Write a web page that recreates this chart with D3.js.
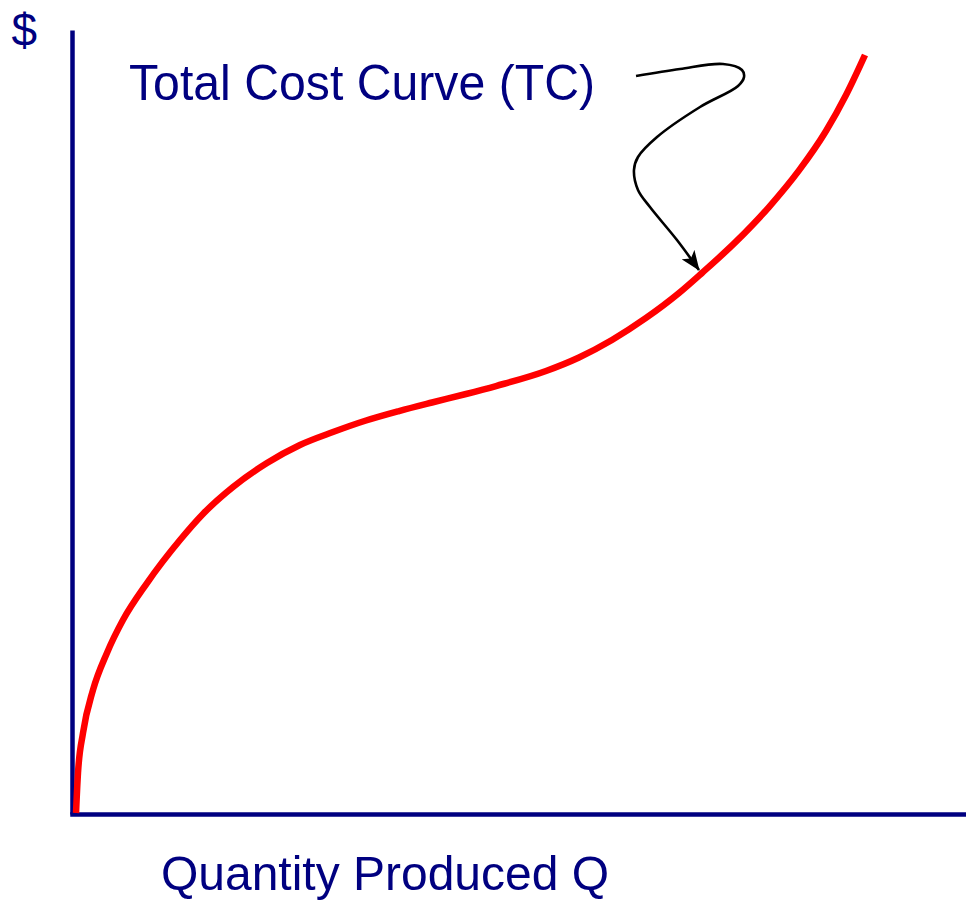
<!DOCTYPE html>
<html>
<head>
<meta charset="utf-8">
<script src="https://cdn.jsdelivr.net/npm/d3@7"></script>
<style>
  html, body { margin: 0; padding: 0; background: #fff; }
  svg { display: block; }
</style>
</head>
<body>
<svg id="chart" width="966" height="901"></svg>
<script>
// ---- Data (Q in arbitrary units 0..100, $ in arbitrary units 0..100) ----
const quantity = [0.45, 0.67, 1.23, 2.35, 3.91, 5.70, 8.39, 12.08, 14.65, 18.01, 21.81, 25.50, 29.19, 32.89, 36.58, 40.27, 44.07, 47.43, 53.02, 56.71, 60.40, 64.21, 67.90, 70.47, 74.27, 77.96, 81.32, 84.34, 86.58, 88.70];
const totalCost = [0.13, 5.23, 10.33, 15.82, 20.54, 24.74, 29.46, 34.95, 38.27, 41.71, 44.77, 47.07, 48.72, 50.19, 51.40, 52.49, 53.57, 54.59, 56.51, 58.23, 60.46, 63.27, 66.45, 69.01, 73.00, 77.42, 82.09, 87.12, 91.71, 96.81];

// annotation arrow path, in data units
const arrowQ = [63.09, 68.01, 72.82, 74.94, 75.17, 74.50, 70.25, 65.44, 63.31, 62.86, 63.31, 64.65, 67.67, 70.13];
const arrowC = [94.13, 95.03, 95.66, 94.90, 94.01, 92.86, 90.18, 86.35, 83.80, 82.14, 79.59, 77.42, 73.21, 69.39];

const yAxisLabel = "$";
const xAxisLabel = "Quantity Produced Q";
const curveLabel = "Total Cost Curve (TC)";

// ---- Drawing ----
const svg = d3.select("#chart");
const navy = "#000080";

const x = d3.scaleLinear().domain([0, 100]).range([72, 966]);
const y = d3.scaleLinear().domain([0, 100]).range([814, 30]);

// axes (lines only)
const yAxis = svg.append("g")
  .attr("transform", `translate(${x(0)},0)`)
  .call(d3.axisLeft(y).tickValues([]).tickSizeOuter(0));
yAxis.select(".domain").attr("stroke", navy).attr("stroke-width", 4.5);

const xAxis = svg.append("g")
  .attr("transform", `translate(0,${y(0)})`)
  .call(d3.axisBottom(x).tickValues([]).tickSizeOuter(0));
xAxis.select(".domain").attr("stroke", navy).attr("stroke-width", 4.5)
  .attr("stroke-linecap", "square");

// total cost curve
const tcData = quantity.map((q, i) => [q, totalCost[i]]);
const tcLine = d3.line()
  .x(d => x(d[0]))
  .y(d => y(d[1]))
  .curve(d3.curveMonotoneX);

svg.append("path")
  .datum(tcData)
  .attr("d", tcLine)
  .attr("fill", "none")
  .attr("stroke", "#ff0000")
  .attr("stroke-width", 6.5)
  .attr("stroke-linecap", "butt");

// arrow marker
const defs = svg.append("defs");
defs.append("marker")
  .attr("id", "arrowhead")
  .attr("markerUnits", "userSpaceOnUse")
  .attr("viewBox", "0 0 20 16")
  .attr("refX", 19)
  .attr("refY", 8)
  .attr("markerWidth", 20)
  .attr("markerHeight", 16)
  .attr("orient", "auto")
  .append("path")
  .attr("d", "M0,0 L20,8 L0,16 L5,8 Z")
  .attr("fill", "#000");

const arrowLine = d3.line()
  .x(d => x(d[0]))
  .y(d => y(d[1]))
  .curve(d3.curveCatmullRom.alpha(0.5));

const arrowData = arrowQ.map((q, i) => [q, arrowC[i]]);
svg.append("path")
  .datum(arrowData)
  .attr("d", arrowLine)
  .attr("fill", "none")
  .attr("stroke", "#000")
  .attr("stroke-width", 2.6)
  .attr("marker-end", "url(#arrowhead)");

// text
const font = "Arial, 'Liberation Sans', Helvetica, sans-serif";
svg.append("text")
  .attr("x", 11.5).attr("y", 46)
  .attr("font-family", font).attr("font-size", 46)
  .attr("fill", navy)
  .text(yAxisLabel);

svg.append("text")
  .attr("x", 129).attr("y", 100)
  .attr("font-family", font).attr("font-size", 50)
  .attr("textLength", 466).attr("lengthAdjust", "spacingAndGlyphs")
  .attr("fill", navy)
  .text(curveLabel);

svg.append("text")
  .attr("x", 161).attr("y", 890)
  .attr("font-family", font).attr("font-size", 49)
  .attr("textLength", 448).attr("lengthAdjust", "spacingAndGlyphs")
  .attr("fill", navy)
  .text(xAxisLabel);
</script>
</body>
</html>
